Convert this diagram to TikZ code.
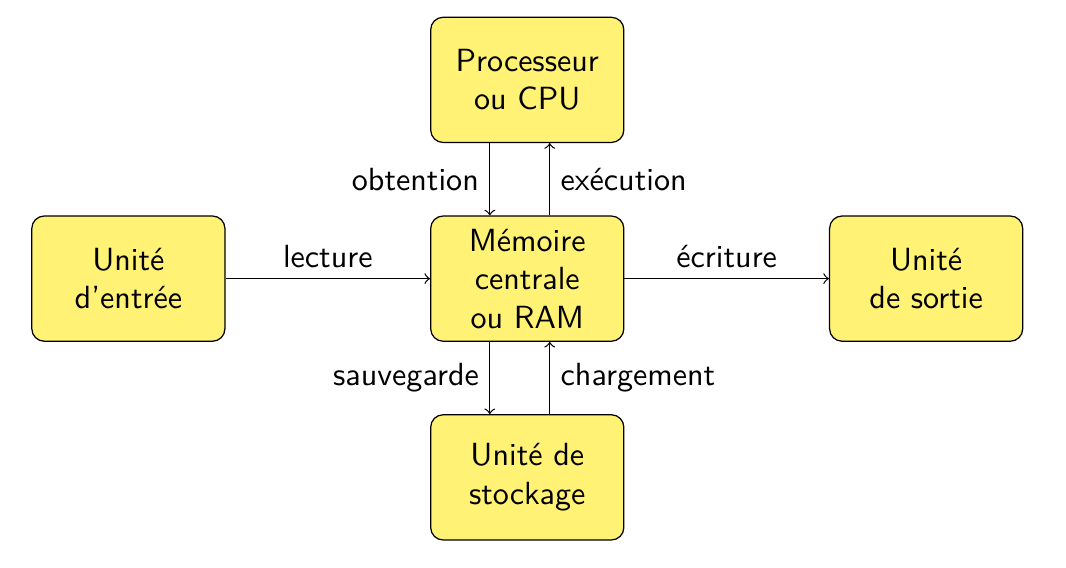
\documentclass[tikz,border=0pt]{standalone}
\usepackage{tikz}
\usetikzlibrary{positioning}
\definecolor{boxyellow}{RGB}{255,242,117}

\begin{document}
\begin{tikzpicture}[
  font=\sffamily\fontsize{10.35}{12.42}\selectfont,
  unit/.style={draw, fill=boxyellow, rounded corners=4pt, align=center,
    minimum width=2.19cm, minimum height=1.42cm},
  flow/.style={->}
]

\useasboundingbox (-5.98,-3.28) rectangle (6.11,3.16);

\def\xDown{-0.425}
\def\xUp{0.255}

% ------------------------
% Units
% ------------------------
\node[unit] (ram) at (0,0) {Mémoire\\centrale\\ou RAM};
\node[unit, above=0.82cm of ram] (cpu) {Processeur\\ou CPU};
\node[unit, below=0.82cm of ram] (stock) {Unité de\\stockage};
\node[unit, left=2.32cm of ram] (entree) {Unité\\d'entrée};
\node[unit, right=2.32cm of ram] (sortie) {Unité\\de sortie};

% CPU <-> RAM
\draw[flow] ([xshift=\xDown cm]cpu.south) -- ([xshift=\xDown cm]ram.north)
  node[midway, left] {obtention};
\draw[flow] ([xshift=\xUp cm]ram.north) -- ([xshift=\xUp cm]cpu.south)
  node[midway, right] {exécution};

% RAM <-> storage
\draw[flow] ([xshift=\xDown cm]ram.south) -- ([xshift=\xDown cm]stock.north)
  node[midway, left] {sauvegarde};
\draw[flow] ([xshift=\xUp cm]stock.north) -- ([xshift=\xUp cm]ram.south)
  node[midway, right] {chargement};

% Input / output
\draw[flow] (entree) -- (ram) node[midway, above] {lecture};
\draw[flow] (ram) -- (sortie) node[midway, above] {écriture};

\end{tikzpicture}
\end{document}
